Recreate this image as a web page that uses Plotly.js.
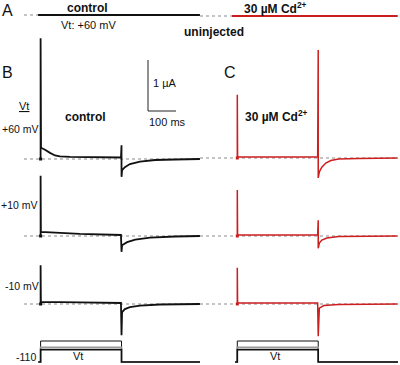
<!DOCTYPE html>
<html><head><meta charset="utf-8">
<script src="https://cdn.plot.ly/plotly-3.0.1.min.js"></script>
<style>html,body{margin:0;padding:0;background:#fff}#chart{width:400px;height:365px}</style>
</head><body><div id="chart"></div>
<script>
// ---------- DATA (time in ms from pulse onset, current in µA) ----------
const pulseEnd = 289;          // ms
const testVoltages = [60, 10, -10];   // mV
const holdingV = -110;         // mV

// Panel A, uninjected oocytes at +60 mV
const uninjCtrlT = [-9, 569];
const uninjCtrlI = [0, 0];
const uninjCdT = [-19, 573];
const uninjCdI = [0, 0];

// Panel B, control
const ctrl60T = [0, 0, 1.5, 15.7, 33.6, 51.4, 69, 105, 287, 289, 289, 291, 301, 319, 355, 409, 480, 569];
const ctrl60I = [0, 2.37, 0.22, 0.18, 0.12, 0.07, 0.05, 0.04, 0.03, 0.27, -0.35, -0.22, -0.16, -0.10, -0.05, -0.02, -0.01, 0];
const ctrl10T = [0, 0, 1, 70, 140, 287, 289, 291, 309, 338, 391, 480, 569];
const ctrl10I = [0, 1.18, 0.08, 0.06, 0.04, 0.02, -0.31, -0.18, -0.12, -0.07, -0.03, -0.01, 0];
const ctrlm10T = [0, 0, 1, 140, 287, 289, 291, 301, 319, 355, 426, 569];
const ctrlm10I = [0, 0.76, 0.04, 0.03, 0.02, -0.61, -0.16, -0.10, -0.06, -0.03, -0.01, 0];

// Panel C, 30 µM Cd2+
const cd60T = [0, 0, 1, 287, 289, 289, 293, 302, 316, 334, 362, 434, 573];
const cd60I = [0, 1.24, 0.02, 0.02, 2.12, -0.39, -0.27, -0.18, -0.10, -0.05, -0.02, -0.01, 0];
const cd10T = [0, 0, 1, 287, 289, 289, 293, 302, 320, 362, 573];
const cd10I = [0, 0.90, 0.02, 0.02, 0.31, -0.24, -0.14, -0.08, -0.04, -0.01, 0];
const cdm10T = [0, 0, 1, 287, 289, 293, 309, 362, 573];
const cdm10I = [0, 0.71, 0.02, 0.02, -0.63, -0.08, -0.03, -0.01, 0];

// Scale bar values
const scaleI = 1;     // µA
const scaleT = 100;   // ms

// ---------- LAYOUT HELPERS ----------
const W = 400, H = 365;
const pxPerMs = 0.28, pxPerUA = 51, pxPerMV = 0.1235;
const colB = {d: [24, 200], onset: 40.6};
const colC = {d: [200, 398], onset: 237.3};
const black = '#111', red = 'rgb(205,30,30)';
const FONT = 'Liberation Sans, Arial, sans-serif';

const layout = {
  width: W, height: H, margin: {l: 0, r: 0, t: 0, b: 0},
  paper_bgcolor: '#fff', plot_bgcolor: 'rgba(0,0,0,0)',
  showlegend: false, shapes: [], annotations: [],
  font: {family: FONT, color: '#111'}
};
const data = [];
let n = 0;
function hidden(o) { return Object.assign({visible: false, showgrid: false, zeroline: false, fixedrange: true}, o); }
function subplot(col, yTop, yBot, yBase, k, vBase) {
  n += 1;
  const xs = n === 1 ? 'xaxis' : 'xaxis' + n, ys = n === 1 ? 'yaxis' : 'yaxis' + n;
  const xr = n === 1 ? 'x' : 'x' + n, yr = n === 1 ? 'y' : 'y' + n;
  const b = vBase || 0;
  layout[xs] = hidden({domain: [col.d[0] / W, col.d[1] / W],
    range: [(col.d[0] - col.onset) / pxPerMs, (col.d[1] - col.onset) / pxPerMs], anchor: yr});
  layout[ys] = hidden({domain: [1 - yBot / H, 1 - yTop / H],
    range: [b + (yBase - yBot) / k, b + (yBase - yTop) / k], anchor: xr});
  return {x: xr, y: yr};
}
function baseline(ax) {
  layout.shapes.push({type: 'line', xref: ax.x + ' domain', x0: 0, x1: 1, yref: ax.y, y0: 0, y1: 0,
    line: {color: '#8a8a8a', width: 1, dash: 'dot'}, layer: 'below'});
}
function trace(ax, t, i, color, w) {
  data.push({type: 'scatter', mode: 'lines', x: t, y: i, xaxis: ax.x, yaxis: ax.y,
    line: {color: color, width: w, simplify: false}, hoverinfo: 'skip'});
}
function dot(ax, color) {
  data.push({type: 'scatter', mode: 'markers', x: [0], y: [0], xaxis: ax.x, yaxis: ax.y,
    marker: {color: color, size: 3, symbol: 'square'}, hoverinfo: 'skip'});
}

// Panel A
const aB = subplot(colB, 5, 25, 15, pxPerUA); baseline(aB); trace(aB, uninjCtrlT, uninjCtrlI, black, 2);
const aC = subplot(colC, 5, 25, 16, pxPerUA); baseline(aC); trace(aC, uninjCdT, uninjCdI, red, 2);

// Panels B and C
const rowsB = [[30, 182, 159, ctrl60T, ctrl60I], [150, 262, 236, ctrl10T, ctrl10I], [240, 340, 304, ctrlm10T, ctrlm10I]];
const rowsC = [[30, 182, 158, cd60T, cd60I], [150, 262, 236, cd10T, cd10I], [240, 340, 304, cdm10T, cdm10I]];
let firstB = null;
rowsB.forEach(r => { const ax = subplot(colB, r[0], r[1], r[2], pxPerUA); if (!firstB) firstB = ax;
  baseline(ax); trace(ax, r[3], r[4], black, 1.8); dot(ax, black); });
rowsC.forEach(r => { const ax = subplot(colC, r[0], r[1], r[2], pxPerUA);
  baseline(ax); trace(ax, r[3], r[4], red, 1.5); dot(ax, red); });

// Voltage protocols
[colB, colC].forEach(col => {
  const ax = subplot(col, 330, 365, 362, pxPerMV, holdingV);
  const endT = (col.d[1] - col.onset) / pxPerMs;
  const styles = [['#111', 1], ['#9a9a9a', 1.6], ['#111', 1.6]];
  testVoltages.forEach((v, j) => {
    trace(ax, [-8, 0, 0, pulseEnd, pulseEnd, endT], [holdingV, holdingV, v, v, holdingV, holdingV], styles[j][0], styles[j][1]);
  });
});

// Scale bar (drawn in the +60 mV control axes)
const sbT0 = (148 - colB.onset) / pxPerMs, sbI0 = (159 - 111) / pxPerUA;
layout.shapes.push({type: 'line', xref: firstB.x, yref: firstB.y, x0: sbT0, x1: sbT0, y0: sbI0, y1: sbI0 + scaleI, line: {color: '#222', width: 1}});
layout.shapes.push({type: 'line', xref: firstB.x, yref: firstB.y, x0: sbT0, x1: sbT0 + scaleT, y0: sbI0, y1: sbI0, line: {color: '#222', width: 1}});

// Text
function txt(text, x, y, size, anchor, bold) {
  layout.annotations.push({text: bold ? '<b>' + text + '</b>' : text, xref: 'paper', yref: 'paper',
    x: x / W, y: 1 - y / H, xanchor: anchor || 'center', yanchor: 'middle', showarrow: false,
    borderpad: 0, font: {size: size, family: FONT, color: '#111'}});
}
txt('A', 1, 10, 16, 'left');
txt('B', 1, 73, 16, 'left');
txt('C', 223, 73, 16, 'left');
txt('control', 87, 8, 12, 'center', true);
txt('Vt: +60 mV', 88, 25, 11, 'center');
txt('uninjected', 214, 32, 12, 'center', true);
txt('30 µM Cd<sup>2+</sup>', 275, 8, 12, 'center', true);
txt('<u>Vt</u>', 24, 106, 11, 'center');
txt('+60 mV', 1, 129, 10.5, 'left');
txt('+10 mV', 0, 205, 10.5, 'left');
txt('-10 mV', 4, 286, 10.5, 'left');
txt('control', 85, 117, 12, 'center', true);
txt('30 µM Cd<sup>2+</sup>', 276, 116, 12, 'center', true);
txt('1 µA', 165, 83, 11, 'center');
txt('100 ms', 167, 122, 11, 'center');
txt('-110', 15, 357, 10.5, 'left');
txt('Vt', 78, 356, 11, 'center');
txt('Vt', 275, 356, 11, 'center');

Plotly.newPlot('chart', data, layout, {staticPlot: true, displayModeBar: false});
</script></body></html>
